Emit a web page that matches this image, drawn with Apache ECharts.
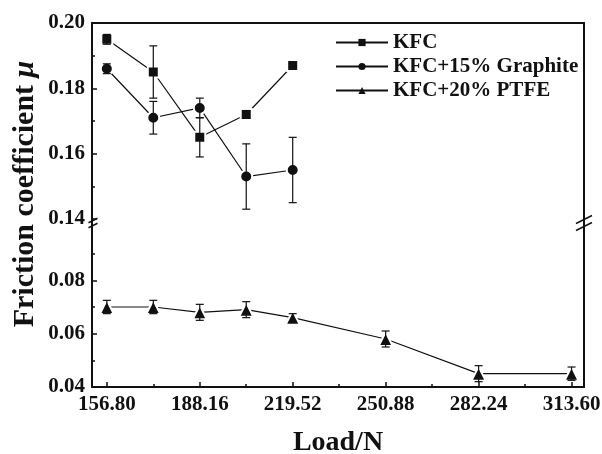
<!DOCTYPE html>
<html>
<head>
<meta charset="utf-8">
<script src="https://cdn.jsdelivr.net/npm/echarts@6/dist/echarts.min.js"></script>
<style>html,body{margin:0;padding:0;background:#fff}#c{width:602px;height:454px}</style>
</head>
<body>
<div id="c"></div>
<script>
// ---- data ----
const loads = [156.80, 172.48, 188.16, 203.84, 219.52, 250.88, 282.24, 313.60];
const kfc = [0.195, 0.185, 0.165, 0.172, 0.187];
const kfcErr = [0.0015, 0.008, 0.006, 0.0012, 0.0005];
const graphite = [0.186, 0.171, 0.174, 0.153, 0.155];
const graphiteErr = [0.0015, 0.005, 0.003, 0.010, 0.010];
const ptfe = [0.070, 0.070, 0.068, 0.069, 0.066, 0.058, 0.045, 0.045];
const ptfeErr = [0.0025, 0.0025, 0.003, 0.003, 0.0015, 0.003, 0.003, 0.0025];
const xMajor = [156.80, 188.16, 219.52, 250.88, 282.24, 313.60];
const xMinor = [172.48, 203.84, 235.20, 266.56, 297.92];
const yBottomMajor = [0.04, 0.06, 0.08];
const yBottomMinor = [0.05, 0.07, 0.09];
const seriesNames = ['KFC', 'KFC+15% Graphite', 'KFC+20% PTFE'];

const FONT = '"Liberation Serif", "Times New Roman", serif';
const BLACK = '#111';
const X_MIN = 151.8, X_MAX = 317.8;

function pairs(vals) { return vals.map((v, i) => [loads[i], v]); }
function triples(vals, errs) { return vals.map((v, i) => [loads[i], v, errs[i]]); }

function errRender(params, api) {
  const x = api.value(0), y = api.value(1), e = api.value(2);
  const hi = api.coord([x, y + e]);
  const lo = api.coord([x, y - e]);
  const w = 4;
  const st = { stroke: BLACK, lineWidth: 1.2 };
  return {
    type: 'group',
    children: [
      { type: 'line', shape: { x1: hi[0], y1: hi[1], x2: lo[0], y2: lo[1] }, style: st },
      { type: 'line', shape: { x1: hi[0] - w, y1: hi[1], x2: hi[0] + w, y2: hi[1] }, style: st },
      { type: 'line', shape: { x1: lo[0] - w, y1: lo[1], x2: lo[0] + w, y2: lo[1] }, style: st }
    ]
  };
}

const axisLine = { show: true, lineStyle: { color: BLACK, width: 2 } };
const labelStyle = { color: BLACK, fontFamily: FONT, fontWeight: 'bold', fontSize: 21 };
const markStyle = { color: BLACK, borderColor: '#fff', borderWidth: 2 };

const chart = echarts.init(document.getElementById('c'), null, { renderer: 'canvas' });

const option = {
  animation: false,
  backgroundColor: '#fff',
  grid: [
    { left: 92, right: 18, top: 23, height: 196, outerBoundsMode: 'none' },
    { left: 92, right: 18, top: 227, bottom: 67, outerBoundsMode: 'none' }
  ],
  xAxis: [
    { type: 'value', gridIndex: 0, position: 'top', min: X_MIN, max: X_MAX,
      axisLine: axisLine, axisTick: { show: false }, axisLabel: { show: false }, splitLine: { show: false } },
    { type: 'value', gridIndex: 1, position: 'bottom', min: X_MIN, max: X_MAX,
      axisLine: axisLine,
      axisTick: { show: true, inside: true, length: 5, customValues: xMajor, lineStyle: { color: BLACK, width: 1.5 } },
      axisLabel: Object.assign({ customValues: xMajor, margin: 7, formatter: v => v.toFixed(2) }, labelStyle),
      splitLine: { show: false },
      name: 'Load/N', nameLocation: 'middle', nameGap: 42,
      nameTextStyle: { color: BLACK, fontFamily: FONT, fontWeight: 'bold', fontSize: 28 } },
    { type: 'value', gridIndex: 1, position: 'bottom', min: X_MIN, max: X_MAX,
      axisLine: { show: false },
      axisTick: { show: true, inside: true, length: 3, customValues: xMinor, lineStyle: { color: BLACK, width: 1.5 } },
      axisLabel: { show: false }, splitLine: { show: false } }
  ],
  yAxis: [
    { type: 'value', gridIndex: 0, position: 'left', min: 0.14, max: 0.20, interval: 0.02,
      axisLine: axisLine,
      axisTick: { show: true, inside: true, length: 5, lineStyle: { color: BLACK, width: 1.5 } },
      minorTick: { show: true, splitNumber: 2, length: 3, lineStyle: { color: BLACK, width: 1.5 } },
      axisLabel: Object.assign({ margin: 7, formatter: v => v.toFixed(2) }, labelStyle),
      splitLine: { show: false } },
    { type: 'value', gridIndex: 1, position: 'left', min: 0.04, max: 0.10,
      axisLine: axisLine,
      axisTick: { show: true, inside: true, length: 5, customValues: yBottomMajor, lineStyle: { color: BLACK, width: 1.5 } },
      axisLabel: Object.assign({ margin: 7, customValues: yBottomMajor, formatter: v => v.toFixed(2) }, labelStyle),
      splitLine: { show: false } },
    { type: 'value', gridIndex: 1, position: 'left', min: 0.04, max: 0.10,
      axisLine: { show: false },
      axisTick: { show: true, inside: true, length: 3, customValues: yBottomMinor, lineStyle: { color: BLACK, width: 1.5 } },
      axisLabel: { show: false }, splitLine: { show: false } },
    { type: 'value', gridIndex: 0, position: 'right', min: 0.14, max: 0.20,
      axisLine: axisLine, axisTick: { show: false }, axisLabel: { show: false }, splitLine: { show: false } },
    { type: 'value', gridIndex: 1, position: 'right', min: 0.04, max: 0.10,
      axisLine: axisLine, axisTick: { show: false }, axisLabel: { show: false }, splitLine: { show: false } }
  ],
  legend: {
    orient: 'vertical', left: 330, top: 27,
    itemWidth: 52, itemHeight: 9, itemGap: 3,
    data: seriesNames,
    itemStyle: { borderWidth: 0 },
    textStyle: { color: BLACK, fontFamily: FONT, fontWeight: 'bold', fontSize: 21, lineHeight: 20 }
  },
  series: [
    { type: 'custom', name: 'kfcErr', xAxisIndex: 0, yAxisIndex: 0, renderItem: errRender,
      data: triples(kfc, kfcErr), z: 4, silent: true },
    { type: 'custom', name: 'graphiteErr', xAxisIndex: 0, yAxisIndex: 0, renderItem: errRender,
      data: triples(graphite, graphiteErr), z: 4, silent: true },
    { type: 'custom', name: 'ptfeErr', xAxisIndex: 1, yAxisIndex: 1, renderItem: errRender,
      data: triples(ptfe, ptfeErr), z: 4, silent: true },
    { type: 'line', name: seriesNames[0], xAxisIndex: 0, yAxisIndex: 0, data: pairs(kfc),
      symbol: 'rect', symbolSize: 11, z: 3,
      lineStyle: { color: BLACK, width: 1.2 }, itemStyle: markStyle },
    { type: 'line', name: seriesNames[1], xAxisIndex: 0, yAxisIndex: 0, data: pairs(graphite),
      symbol: 'circle', symbolSize: 12, z: 3,
      lineStyle: { color: BLACK, width: 1.2 }, itemStyle: markStyle },
    { type: 'line', name: seriesNames[2], xAxisIndex: 1, yAxisIndex: 1, data: pairs(ptfe),
      symbol: 'triangle', symbolSize: 14, z: 3,
      lineStyle: { color: BLACK, width: 1.2 }, itemStyle: markStyle }
  ]
};
chart.setOption(option);

// axis break marks and y-axis title, positioned from the axes' own scales
const topL = chart.convertToPixel({ xAxisIndex: 0, yAxisIndex: 0 }, [X_MIN, 0.14]);
const topR = chart.convertToPixel({ xAxisIndex: 0, yAxisIndex: 0 }, [X_MAX, 0.14]);
const botL = chart.convertToPixel({ xAxisIndex: 1, yAxisIndex: 1 }, [X_MIN, 0.10]);
const botR = chart.convertToPixel({ xAxisIndex: 1, yAxisIndex: 1 }, [X_MAX, 0.10]);
const yTop = chart.convertToPixel({ xAxisIndex: 0, yAxisIndex: 0 }, [X_MIN, 0.20]);
const yBot = chart.convertToPixel({ xAxisIndex: 1, yAxisIndex: 1 }, [X_MIN, 0.04]);
const bs = { stroke: BLACK, lineWidth: 1.5 };
function slash(cx, cy, hw) {
  return { type: 'line', shape: { x1: cx - hw, y1: cy + hw * 0.5, x2: cx + hw, y2: cy - hw * 0.5 }, style: bs, z: 10 };
}
const midL = (topL[1] + botL[1]) / 2, midR = (topR[1] + botR[1]) / 2;
chart.setOption({
  graphic: [
    { type: 'line', shape: { x1: topL[0], y1: topL[1], x2: botL[0], y2: botL[1] }, style: { stroke: BLACK, lineWidth: 2 } },
    { type: 'line', shape: { x1: topR[0], y1: topR[1], x2: botR[0], y2: botR[1] }, style: { stroke: BLACK, lineWidth: 2 } },
    slash(topL[0] + 1, midL - 2.5, 4.5),
    slash(topL[0] + 1, midL + 2.5, 4.5),
    slash(topR[0], midR - 3.5, 8),
    slash(topR[0], midR + 3.5, 8),
    { type: 'text', x: 25, y: (yTop[1] + yBot[1]) / 2 - 11, rotation: Math.PI / 2,
      style: { text: 'Friction coefficient {i|μ}', fill: BLACK, font: 'bold 30px ' + FONT,
        align: 'center', verticalAlign: 'middle',
        rich: { i: { fontStyle: 'italic', fontWeight: 'bold', fontSize: 30, fontFamily: FONT, fill: BLACK } } } }
  ]
});
</script>
</body>
</html>
